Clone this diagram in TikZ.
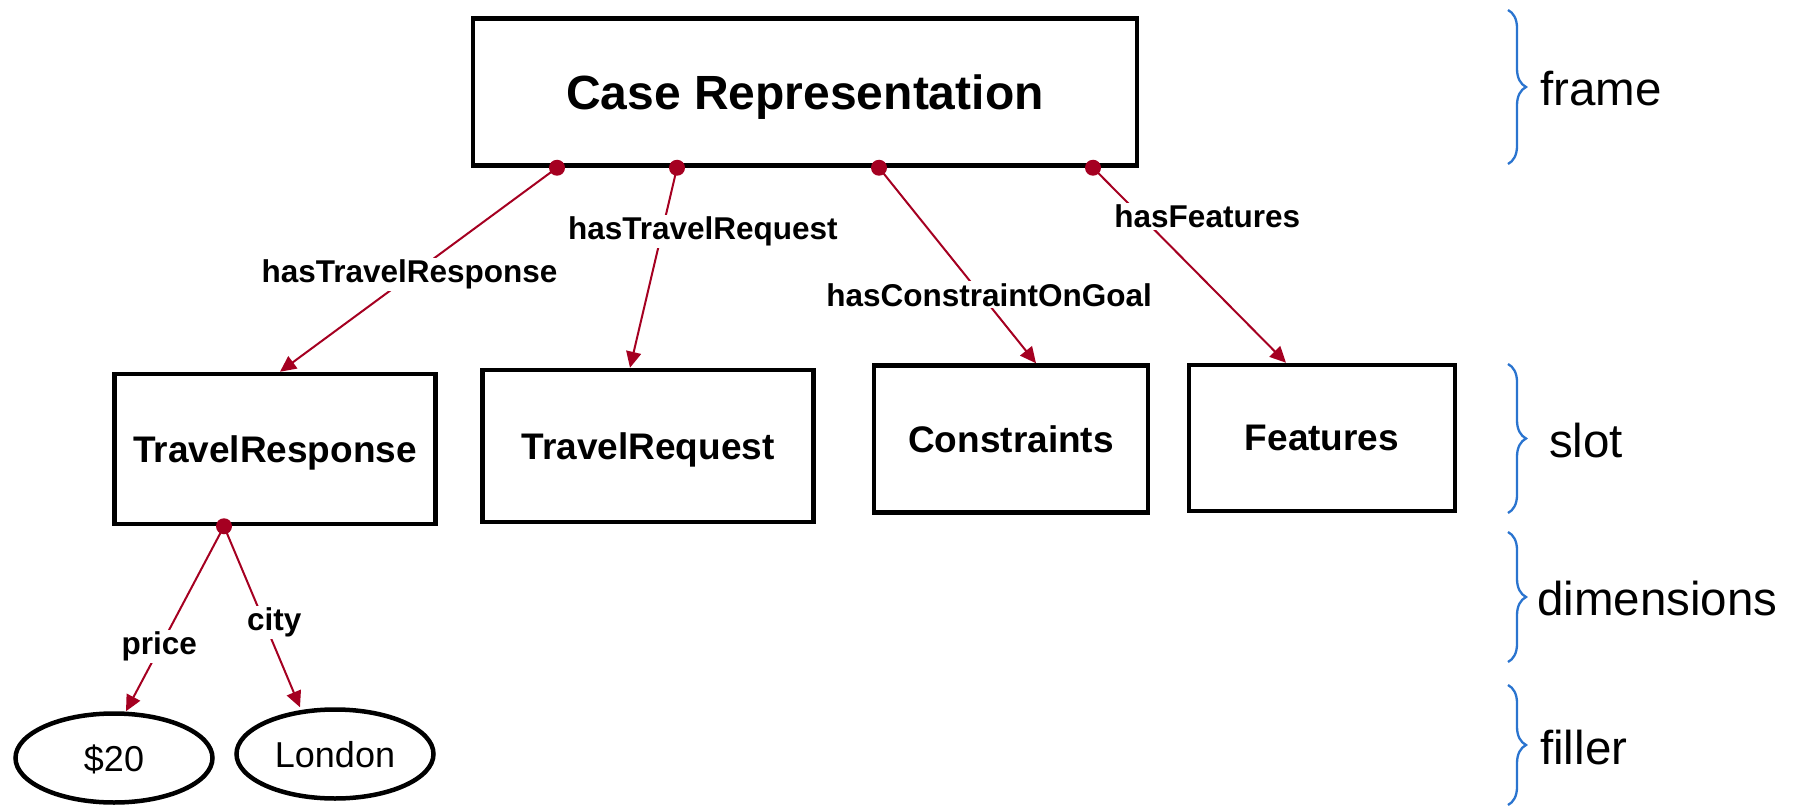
\documentclass[tikz,border=0pt]{standalone}
\usepackage{fontspec}
\setmainfont{Liberation Sans}
\usetikzlibrary{arrows.meta,shapes.geometric,decorations.pathreplacing}
\definecolor{linkred}{HTML}{A50021}
\definecolor{bracketblue}{HTML}{2A74CF}

\begin{document}
\begin{tikzpicture}[x=1pt,y=-1pt]
			\tikzstyle{casebox}= [
				rectangle, draw = black, line width = 4.5pt,
				inner sep = 0pt, text depth = 0pt,
				font = \bfseries\fontsize{37}{44}\selectfont
			]
			\tikzstyle{filler}= [
				ellipse, draw = black, line width = 4.5pt, inner sep = 0pt,
				minimum width = 197pt, minimum height = 89pt, text depth = 0pt,
				font = \fontsize{36}{43}\selectfont
			]
			\tikzstyle{link}=[draw=linkred,line width=2pt,-{Triangle[length=16pt,width=15pt]}]
			\tikzstyle{linklabel}=[fill=white,inner sep=2pt,font=\bfseries\fontsize{31.5}{38}\selectfont]
			\tikzstyle{dot}=[fill=linkred]
			\tikzstyle{brc}=[draw=bracketblue,line width=2.3pt,decorate,decoration={brace,amplitude=18pt}]
			\tikzstyle{level}=[anchor=west,inner sep=0pt,font=\fontsize{47.5}{57}\selectfont]
			\useasboundingbox (0,0) rectangle (1795,810);
			% frame and slots
			\node[casebox, minimum width=664pt, minimum height=147pt,
				font=\bfseries\fontsize{48}{58}\selectfont] (case) at (805,92) {Case Representation};
			\node[casebox, minimum width=321pt, minimum height=150pt] (resp) at (275,449) {TravelResponse};
			\node[casebox, minimum width=331pt, minimum height=152pt] (req) at (648,446) {TravelRequest};
			\node[casebox, minimum width=274pt, minimum height=147pt] (cons) at (1011,439) {Constraints};
			\node[casebox, minimum width=266pt, minimum height=146pt] (feat) at (1322,438) {Features};
			% fillers
			\node[filler] (price) at (114,758) {\$20};
			\node[filler] (london) at (335,754) {London};
			% link origins
			\coordinate (o1) at ([xshift=-248pt]case.south);
			\coordinate (o2) at ([xshift=-128pt]case.south);
			\coordinate (o3) at ([xshift=74pt]case.south);
			\coordinate (o4) at ([xshift=288pt]case.south);
			\coordinate (o5) at ([xshift=-51pt]resp.south);
			\draw (o1) to node[linklabel, pos=0.5, xshift=-9pt, yshift=-5pt] (l1) {hasTravelResponse} ([xshift=5pt]resp.north) [link];
			\draw (o2) to node[linklabel, pos=0.3, xshift=40pt, yshift=-4pt] (l2) {hasTravelRequest} ([xshift=-18pt]req.north) [link];
			\draw (o3) to node[linklabel, pos=0.65, xshift=8pt] (l3) {hasConstraintOnGoal} ([xshift=25pt]cons.north) [link];
			\draw (o4) to node[linklabel, pos=0.25, xshift=66pt] (l4) {hasFeatures} ([xshift=-36pt]feat.north) [link];
			\draw (o5) to node[linklabel, pos=0.64, xshift=-2pt, yshift=-2pt] (l5) {price} ([xshift=12pt]price.north) [link];
			\draw (o5) to node[linklabel, pos=0.53, xshift=10pt] (l6) {city} ([xshift=-35pt]london.north) [link];
			\foreach \o in {o1,o2,o3,o4,o5}
				\fill[dot] (\o) circle (8pt);
			% levels
			\draw[brc] (1508,10) -- (1508,164);
			\draw[brc] (1508,364) -- (1508,513);
			\draw[brc] (1508,532) -- (1508,662);
			\draw[brc] (1508,685) -- (1508,805);
			\node[level] (lvframe) at (1540,89) {frame};
			\node[level] (lvslot) at (1549,441) {slot};
			\node[level] (lvdim) at (1537,599) {dimensions};
			\node[level] (lvfill) at (1540,748) {filler};
		\end{tikzpicture}
\end{document}
